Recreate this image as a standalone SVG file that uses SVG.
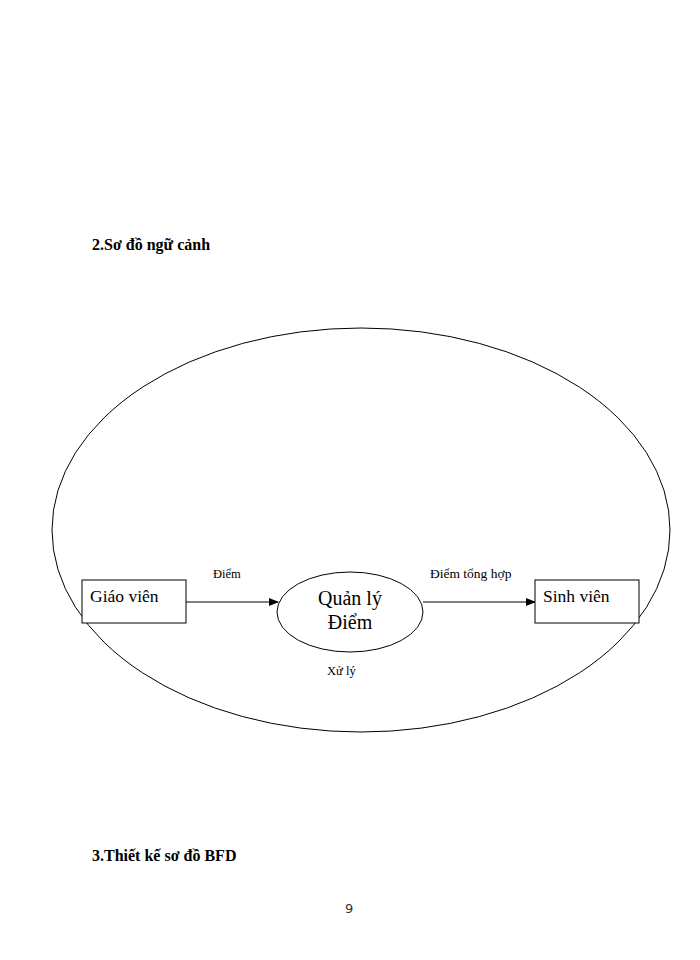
<svg xmlns="http://www.w3.org/2000/svg" width="700" height="960" viewBox="0 0 700 960">
<defs>
<style>
.ln{fill:none;stroke:#000;stroke-width:1}
.bx{fill:#fff;stroke:#000;stroke-width:1}
.t{font-family:"Liberation Serif",serif;fill:#000}
.h{font-family:"Liberation Serif",serif;font-weight:bold;font-size:16px;fill:#000}
</style>
<marker id="ah" markerWidth="10" markerHeight="8" refX="9" refY="4" orient="auto" markerUnits="userSpaceOnUse">
<path d="M0,0 L10,4 L0,8 z" fill="#000"/>
</marker>
</defs>
<rect width="700" height="960" fill="#fff"/>
<text class="h" x="92" y="250">2.Sơ đồ ngữ cảnh</text>
<g id="boundary"><ellipse class="ln" cx="361" cy="530" rx="309" ry="202"/></g>
<g id="connectors">
<line class="ln" x1="186" y1="602" x2="278" y2="602" marker-end="url(#ah)"/>
<line class="ln" x1="423" y1="602" x2="535" y2="602" marker-end="url(#ah)"/>
<text class="t" x="213" y="578" font-size="12.5">Điểm</text>
<text class="t" x="430" y="578" font-size="13.5">Điểm tổng hợp</text>
</g>
<g id="giaovien"><rect class="bx" x="82" y="580" width="104" height="43"/><text class="t" x="90" y="602" font-size="17.5">Giáo viên</text></g>
<g id="quanly"><ellipse class="bx" cx="350" cy="612" rx="73" ry="40"/><text class="t" x="350" y="605" font-size="20" text-anchor="middle">Quản lý</text><text class="t" x="350" y="629" font-size="20" text-anchor="middle">Điểm</text></g>
<g id="sinhvien"><rect class="bx" x="535" y="580" width="104" height="43"/><text class="t" x="543" y="602" font-size="17.5">Sinh viên</text></g>
<text class="t" x="327" y="675" font-size="12.5">Xử lý</text>
<text class="h" x="92" y="861">3.Thiết kế sơ đồ BFD</text>
<text x="345" y="913" font-family="DejaVu Sans,sans-serif" font-size="13" fill="#333">9</text>
</svg>
